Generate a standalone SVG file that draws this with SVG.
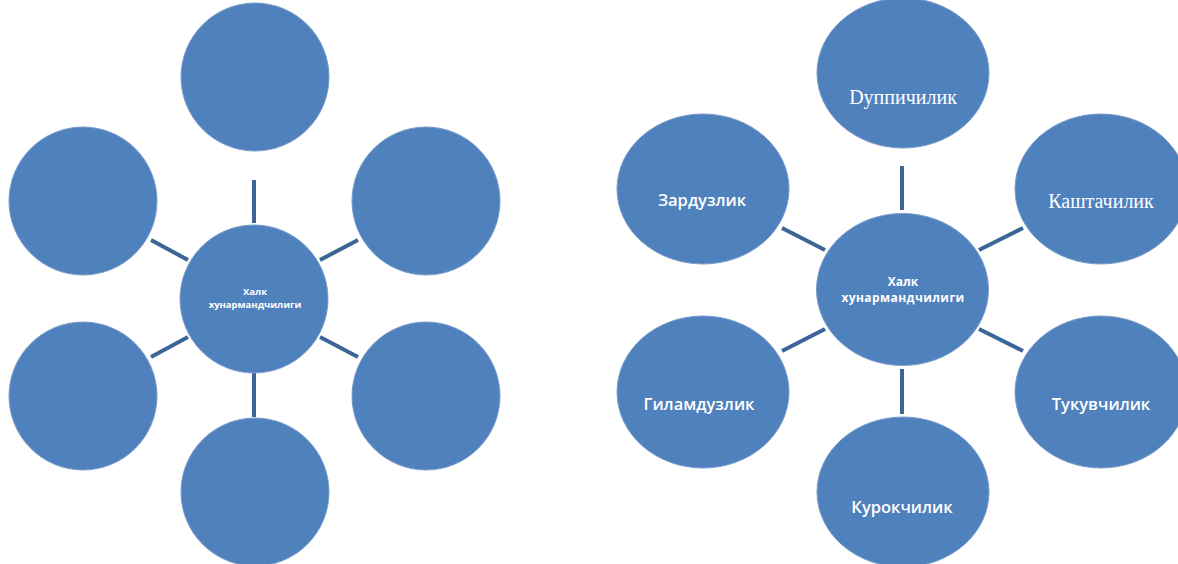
<svg xmlns="http://www.w3.org/2000/svg" width="1178" height="564" viewBox="0 0 1178 564">
<style>
.n{fill:#4F81BD;stroke:#7A9CCB;stroke-width:1}
.c line{stroke:#3B6596;stroke-width:4}
.s{fill:#fff;font-family:"Open Sans","DejaVu Sans",sans-serif;font-size:16.5px;font-weight:600;text-anchor:middle}
.r{fill:#fff;font-family:"Liberation Serif",serif;font-size:20px;text-anchor:middle}
.h{fill:#fff;font-family:"Open Sans","DejaVu Sans",sans-serif;font-weight:700;text-anchor:middle}
</style>
<rect width="1178" height="564" fill="#fff"/>
<g id="connectors" class="c">
<line x1="254" y1="180" x2="254" y2="223"/>
<line x1="254" y1="373" x2="254" y2="417"/>
<line x1="151" y1="240" x2="188" y2="260"/>
<line x1="320" y1="260" x2="358" y2="240"/>
<line x1="151" y1="357" x2="188" y2="337"/>
<line x1="320" y1="337" x2="358" y2="357"/>
<line x1="902" y1="166" x2="902" y2="210"/>
<line x1="902" y1="369" x2="902" y2="414"/>
<line x1="782" y1="228" x2="825" y2="250"/>
<line x1="979" y1="250" x2="1023" y2="228"/>
<line x1="782" y1="351" x2="825" y2="329"/>
<line x1="979" y1="329" x2="1023" y2="351"/>
</g>
<g id="l-center"><circle class="n" cx="254" cy="299" r="74"/>
<text class="h" font-size="9.5" x="255" y="295">Халк</text>
<text class="h" font-size="9.5" x="255" y="308">хунармандчилиги</text></g>
<g id="l-top"><circle class="n" cx="255" cy="77" r="74"/></g>
<g id="l-tl"><circle class="n" cx="83" cy="201" r="74"/></g>
<g id="l-tr"><circle class="n" cx="426" cy="201" r="74"/></g>
<g id="l-bl"><circle class="n" cx="83" cy="396" r="74"/></g>
<g id="l-br"><circle class="n" cx="426" cy="396" r="74"/></g>
<g id="l-bottom"><circle class="n" cx="255" cy="492" r="74"/></g>
<g id="r-center"><ellipse class="n" cx="902.5" cy="289.5" rx="86" ry="76"/>
<text class="h" font-size="12" x="903" y="286">Халк</text>
<text class="h" font-size="12" x="903" y="302" letter-spacing="0.4">хунармандчилиги</text></g>
<g id="r-top"><ellipse class="n" cx="903" cy="73" rx="86" ry="75"/>
<text class="r" x="903" y="104">Dуппичилик</text></g>
<g id="r-tl"><ellipse class="n" cx="703" cy="189" rx="86" ry="75"/>
<text class="s" x="702" y="206">Зардузлик</text></g>
<g id="r-tr"><ellipse class="n" cx="1101" cy="189" rx="86" ry="75"/>
<text class="r" x="1101" y="208">Каштачилик</text></g>
<g id="r-bl"><ellipse class="n" cx="703" cy="392" rx="86" ry="76"/>
<text class="s" x="699" y="410">Гиламдузлик</text></g>
<g id="r-br"><ellipse class="n" cx="1101" cy="392" rx="86" ry="76"/>
<text class="s" x="1101" y="410">Тукувчилик</text></g>
<g id="r-bottom"><ellipse class="n" cx="903" cy="492" rx="86" ry="75"/>
<text class="s" x="902" y="513">Курокчилик</text></g>
</svg>
